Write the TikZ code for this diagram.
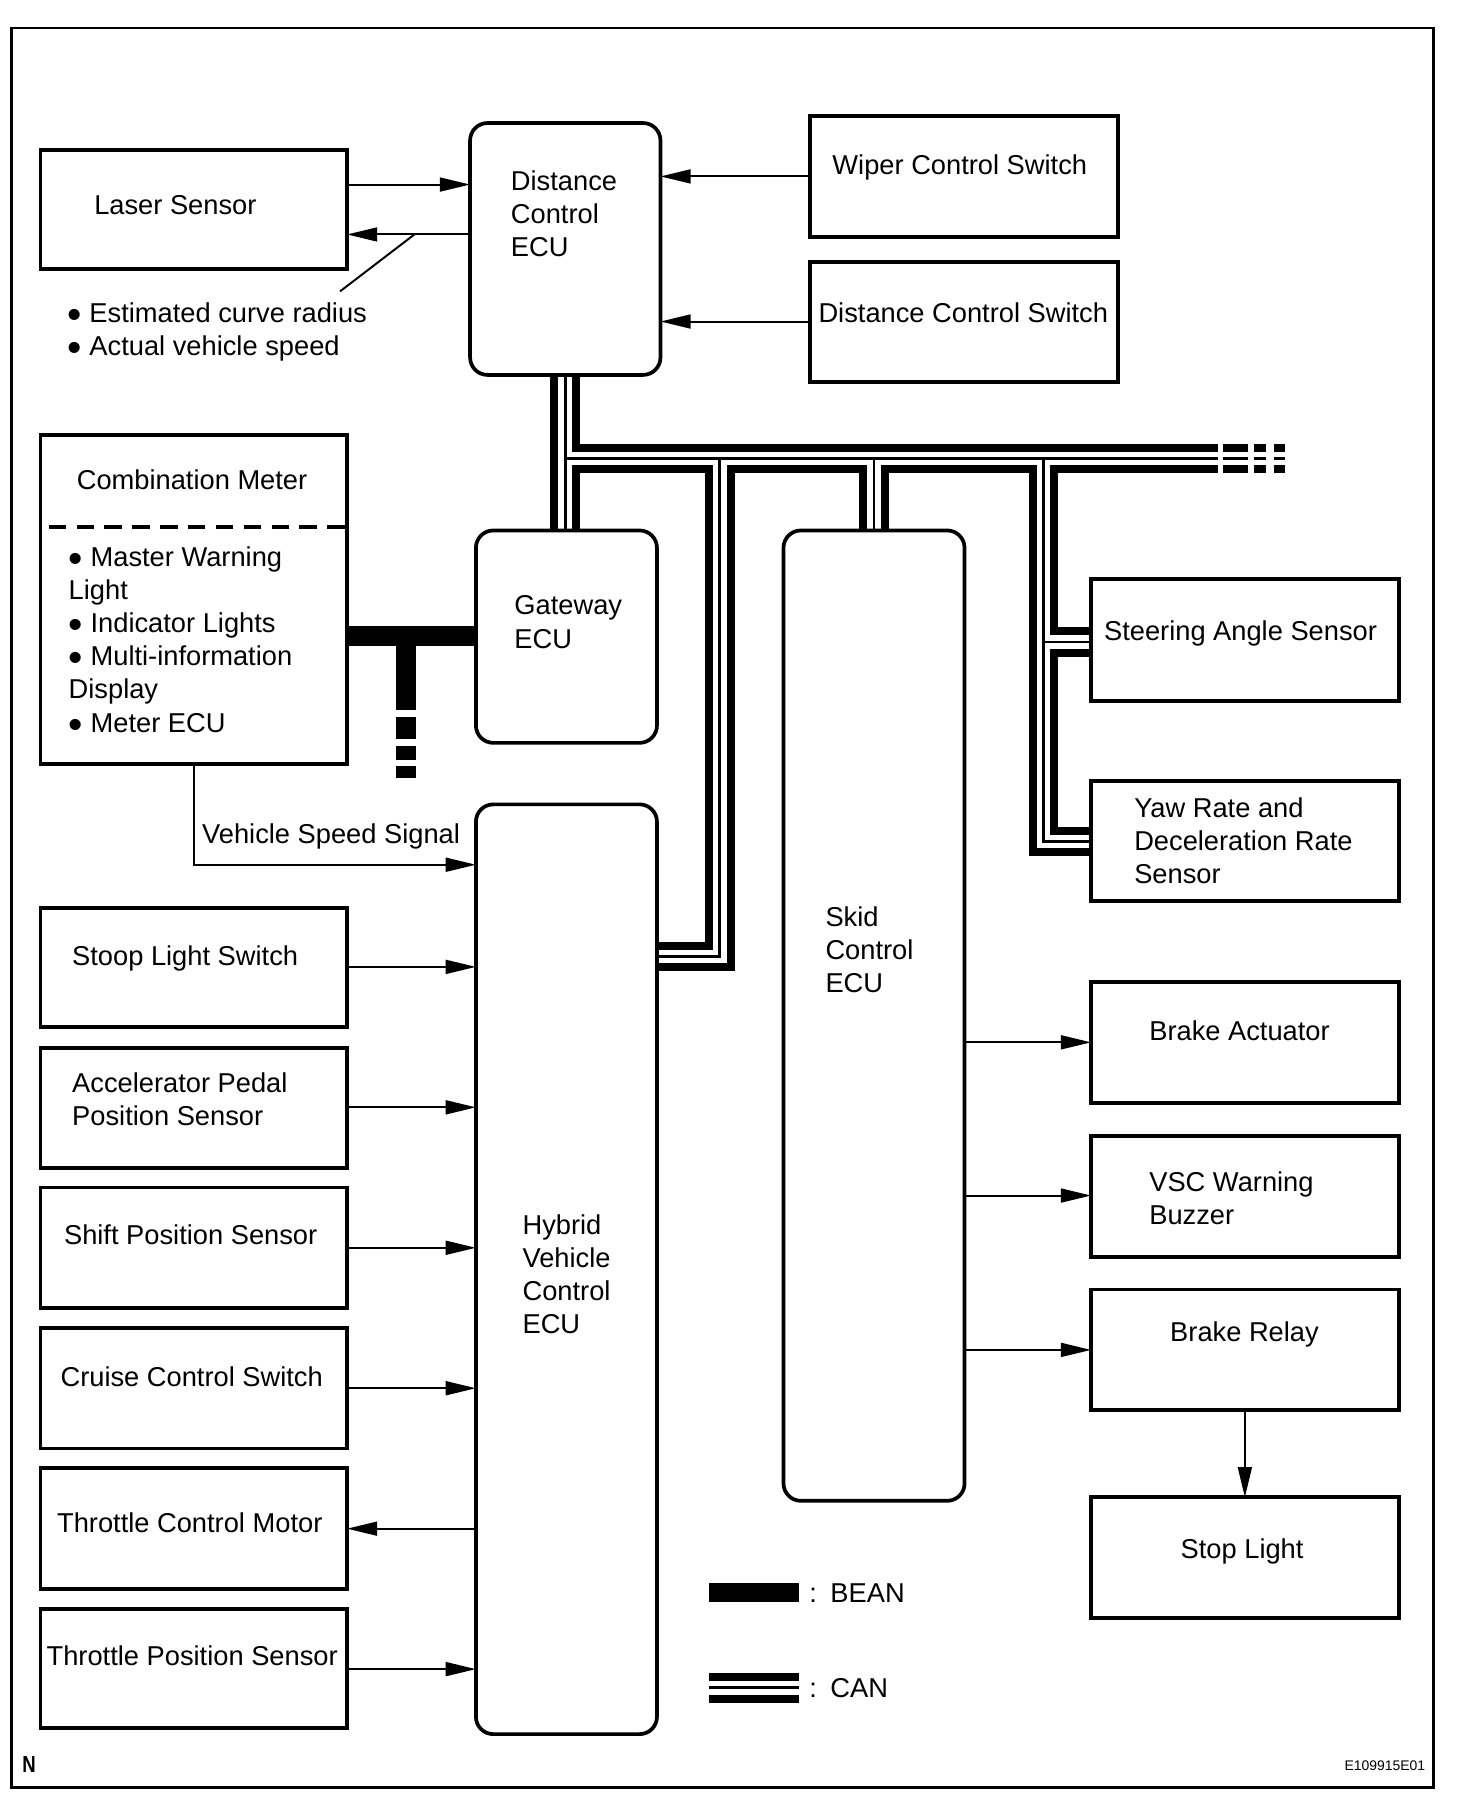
\documentclass[tikz,border=0pt]{standalone}
\usepackage{fontspec}
\setmainfont{Liberation Sans}
\usepackage{graphicx}
\usetikzlibrary{arrows.meta,backgrounds}
\newcommand\mybul{\raisebox{-0.22em}[0pt][0pt]{\scalebox{1.5}{•}}}
\begin{document}
\begin{tikzpicture}[x=1pt,y=-1pt,
  font=\fontsize{23.5}{28.5}\selectfont,
  box/.style={draw,line width=3.2pt,inner sep=0pt,outer sep=0pt,anchor=north west},
  rbox/.style={box,rounded corners=15pt},
  txt/.style={inner sep=0pt,anchor=west,align=left},
  ltxt/.style={inner sep=0pt,anchor=base west},
  arr/.style={line width=1.7pt,-{Triangle[length=26pt,width=12pt]}},
  plain/.style={line width=1.7pt},
  bean/.style={line width=17pt},
]
\useasboundingbox (0,0) rectangle (1268,1568);
\draw[line width=2pt] (10,24) rectangle (1235,1540);

% ---------- boxes ----------
\node[box,minimum width=264pt,minimum height=103pt] (laser) at (35,129) {};
\node[rbox,minimum width=164pt,minimum height=217pt] (dce) at (405,106) {};
\node[box,minimum width=265pt,minimum height=104pt] (wiper) at (698,100) {};
\node[box,minimum width=265pt,minimum height=103pt] (dcs) at (698,226) {};
\node[box,minimum width=264pt,minimum height=283pt] (combo) at (35,375) {};
\node[rbox,minimum width=156pt,minimum height=183pt] (gw) at (410,457) {};
\node[rbox,minimum width=156pt,minimum height=801pt] (hv) at (410,693) {};
\node[rbox,minimum width=156pt,minimum height=836pt] (skid) at (675,457) {};
\node[box,minimum width=265pt,minimum height=105pt] (steer) at (940,499) {};
\node[box,minimum width=265pt,minimum height=103pt] (yaw) at (940,673) {};
\node[box,minimum width=265pt,minimum height=104pt] (bact) at (940,846) {};
\node[box,minimum width=265pt,minimum height=104pt] (vsc) at (940,979) {};
\node[box,minimum width=265pt,minimum height=104pt] (relay) at (940,1111) {};
\node[box,minimum width=265pt,minimum height=104pt] (stop) at (940,1290) {};
\node[box,minimum width=264pt,minimum height=103pt] (stoop) at (35,782) {};
\node[box,minimum width=264pt,minimum height=103pt] (accel) at (35,903) {};
\node[box,minimum width=264pt,minimum height=104pt] (shift) at (35,1023) {};
\node[box,minimum width=264pt,minimum height=104pt] (cruise) at (35,1144) {};
\node[box,minimum width=264pt,minimum height=104pt] (tcm) at (35,1265) {};
\node[box,minimum width=264pt,minimum height=103pt] (tps) at (35,1386) {};

% ---------- texts ----------
\node[ltxt] (t-laser) at (81,184.5) {Laser Sensor};
\node[txt] (t-dce) at (440,184) {Distance\\Control\\ECU};
\node[ltxt] (t-wiper) at (717,150.5) {Wiper Control Switch};
\node[ltxt] (t-dcs) at (705,277.5) {Distance Control Switch};
\node[txt] (t-curve) at (58,286) {\mybul{} Estimated curve radius\\\mybul{} Actual vehicle speed};
\node[ltxt] (t-combo) at (66,421.5) {Combination Meter};
\node[txt] (t-comboitems) at (59,551) {\mybul{} Master Warning\\Light\\\mybul{} Indicator Lights\\\mybul{} Multi-information\\Display\\\mybul{} Meter ECU};
\node[txt] (t-gw) at (443,536) {Gateway\\ECU};
\node[ltxt] (t-vss) at (174,726.5) {Vehicle Speed Signal};
\node[txt] (t-hv) at (450,1098) {Hybrid\\Vehicle\\Control\\ECU};
\node[txt] (t-skid) at (711,818) {Skid\\Control\\ECU};
\node[ltxt] (t-steer) at (951,551.5) {Steering Angle Sensor};
\node[txt] (t-yaw) at (977,724) {Yaw Rate and\\Deceleration Rate\\Sensor};
\node[ltxt] (t-bact) at (990,896.5) {Brake Actuator};
\node[txt] (t-vsc) at (990,1032) {VSC Warning\\Buzzer};
\node[ltxt] (t-relay) at (1008,1155.5) {Brake Relay};
\node[ltxt] (t-stop) at (1017,1342.5) {Stop Light};
\node[ltxt] (t-stoop) at (62,831.5) {Stoop Light Switch};
\node[txt] (t-accel) at (62,947) {Accelerator Pedal\\Position Sensor};
\node[ltxt] (t-shift) at (55,1072.5) {Shift Position Sensor};
\node[ltxt] (t-cruise) at (52,1194.5) {Cruise Control Switch};
\node[ltxt] (t-tcm) at (49,1320.5) {Throttle Control Motor};
\node[ltxt] (t-tps) at (40,1434.5) {Throttle Position Sensor};
\node[ltxt] (t-bean) at (697,1380.5) {:\hspace{3pt} BEAN};
\node[ltxt] (t-can) at (697,1462.5) {:\hspace{3pt} CAN};
\node[inner sep=0pt,anchor=west,font=\fontsize{20}{22}\selectfont\bfseries] (t-n) at (19,1520) {\scalebox{0.8}[1]{N}};
\node[inner sep=0pt,anchor=east,font=\fontsize{12}{14}\selectfont] (t-id) at (1228,1521) {E109915E01};

% ---------- plain connectors ----------
\draw[arr] (laser.east |- 0,159) -- (dce.west |- 0,159);
\draw[arr] (dce.west |- 0,202) -- (laser.east |- 0,202);
\draw[arr] (wiper.west |- 0,152) -- (dce.east |- 0,152);
\draw[arr] (dcs.west |- 0,277) -- (dce.east |- 0,277);
\coordinate (ldA) at (357,202);
\coordinate (ldB) at (293,251);
\draw[plain] (ldA) -- (ldB);

\coordinate (dl) at (42,454);
\draw[line width=3.5pt,dash pattern=on 15pt off 9pt] (dl) -- (combo.east |- dl);

\draw[arr] (combo.south) -- (combo.south |- 0,745) -- (hv.west |- 0,745);
\draw[arr] (stoop.east |- 0,833) -- (hv.west |- 0,833);
\draw[arr] (accel.east |- 0,954) -- (hv.west |- 0,954);
\draw[arr] (shift.east |- 0,1075) -- (hv.west |- 0,1075);
\draw[arr] (cruise.east |- 0,1196) -- (hv.west |- 0,1196);
\draw[arr] (hv.west |- 0,1317) -- (tcm.east |- 0,1317);
\draw[arr] (tps.east |- 0,1438) -- (hv.west |- 0,1438);

\draw[arr] (skid.east |- 0,898) -- (bact.west |- 0,898);
\draw[arr] (skid.east |- 0,1030) -- (vsc.west |- 0,1030);
\draw[arr] (skid.east |- 0,1163) -- (relay.west |- 0,1163);
\draw[arr] (relay.south) -- (stop.north);

% ---------- bus coordinates ----------
\coordinate (busL) at (dce.south |- 0,395);
\coordinate (busR) at (1049,395);
\coordinate (hvT) at (620,395);
\coordinate (hvC) at (620,824);
\coordinate (yT) at (899,395);
\coordinate (yC) at (899,725);
\coordinate (sT) at (899,553);
\coordinate (d1a) at (1054,395); \coordinate (d1b) at (1075,395);
\coordinate (d2a) at (1080,395); \coordinate (d2b) at (1091,395);
\coordinate (d3a) at (1097.5,395); \coordinate (d3b) at (1107,395);
\coordinate (lgC1) at (611,1454); \coordinate (lgC2) at (688,1454);
\coordinate (lgB1) at (611,1372); \coordinate (lgB2) at (688,1372);
\coordinate (bJ) at (349.5,548);
\coordinate (bE) at (349.5,612);
\coordinate (b1a) at (349.5,618); \coordinate (b1b) at (349.5,637);
\coordinate (b2a) at (349.5,643); \coordinate (b2b) at (349.5,655);
\coordinate (b3a) at (349.5,660); \coordinate (b3b) at (349.5,670);

\begin{scope}[on background layer]
  \foreach \w/\c in {25.6/black,11.8/white,2.3/black}{
    \draw[line width=\w pt,draw=\c]
      (dce.south) -- (dce.south |- gw.north)
      (busL) -- (busR)
      (hvT) -- (hvC) -- (hv.east |- hvC)
      (skid.north |- busL) -- (skid.north)
      (yT) -- (yC) -- (yaw.west |- yC)
      (sT) -- (steer.west |- sT)
      (d1a) -- (d1b) (d2a) -- (d2b) (d3a) -- (d3b)
      (lgC1) -- (lgC2);
  }
  \draw[bean] (combo.east |- bJ) -- (gw.west |- bJ);
  \draw[bean] (bJ) -- (bE) (b1a) -- (b1b) (b2a) -- (b2b) (b3a) -- (b3b);
  \draw[bean] (lgB1) -- (lgB2);
\end{scope}
\end{tikzpicture}
\end{document}
